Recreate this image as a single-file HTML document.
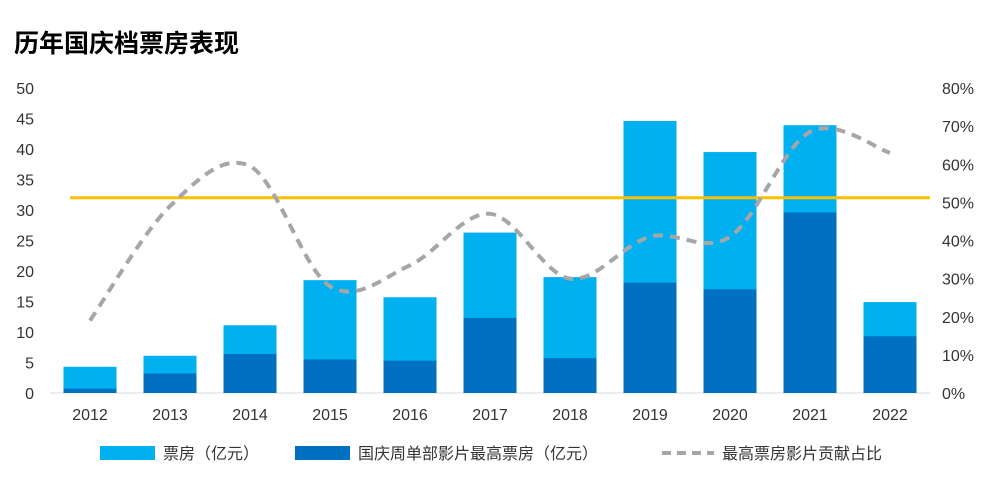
<!DOCTYPE html>
<html><head><meta charset="utf-8"><style>
html,body{margin:0;padding:0;background:#fff;}
svg{display:block;font-family:"Liberation Sans","Noto Sans CJK SC",sans-serif;}
</style></head><body>
<svg id="chart" width="994" height="484" viewBox="0 0 994 484">
<rect x="0" y="0" width="994" height="484" fill="#fff"/>
<text x="14" y="52" font-size="25" font-weight="bold" fill="#000">历年国庆档票房表现</text>
<g id="axes"></g><g id="bars"></g><g id="lines"></g>
<g>
<rect x="100" y="446" width="55" height="14" fill="#00B0F0"/>
<text x="163" y="459" font-size="16" fill="#333">票房（亿元）</text>
<rect x="295" y="446" width="55" height="14" fill="#0070C0"/>
<text x="358" y="459" font-size="16" fill="#333">国庆周单部影片最高票房（亿元）</text>
<line x1="662" y1="453" x2="714" y2="453" stroke="#A6A6A6" stroke-width="4" stroke-dasharray="9,6"/>
<text x="722" y="459" font-size="16" fill="#333">最高票房影片贡献占比</text>
</g>
</svg>
<script>
const categories=["2012","2013","2014","2015","2016","2017","2018","2019","2020","2021","2022"];
const totalBoxOffice=[4.3,6.1,11.1,18.5,15.7,26.3,19.0,44.6,39.5,43.9,14.9];
const topFilmBoxOffice=[0.7,3.2,6.4,5.5,5.3,12.3,5.7,18.1,17.0,29.6,9.3];
const topFilmShare=[19,49,59.5,28,33.5,47,30,41,41,68.5,63];
const leftTicks=[0,5,10,15,20,25,30,35,40,45,50];
const rightTicks=[0,10,20,30,40,50,60,70,80];
const referenceLine=32;
const NS="http://www.w3.org/2000/svg";
const y0=393,y1=88,xL=50,xR=930;
const yL=v=>y0-(v/50)*(y0-y1);
const yR=v=>y0-(v/80)*(y0-y1);
const step=(xR-xL)/categories.length;
const xC=i=>xL+step*(i+0.5);
function mk(tag,attrs,parent){const e=document.createElementNS(NS,tag);for(const k in attrs)e.setAttribute(k,attrs[k]);parent.appendChild(e);return e;}
const axes=document.getElementById('axes'),bars=document.getElementById('bars'),lines=document.getElementById('lines');
mk('line',{x1:xL,y1:y0,x2:xR,y2:y0,stroke:'#D9D9D9','stroke-width':1},axes);
leftTicks.forEach(t=>{const e=mk('text',{x:34,y:yL(t)+6,'text-anchor':'end','font-size':16,fill:'#333'},axes);e.textContent=t;

});
rightTicks.forEach(t=>{const e=mk('text',{x:942,y:yR(t)+6,'font-size':16,fill:'#333'},axes);e.textContent=t+'%';

});
categories.forEach((c,i)=>{const e=mk('text',{x:xC(i),y:420,'text-anchor':'middle','font-size':16,fill:'#333'},axes);e.textContent=c;

});
const bw=53;
categories.forEach((c,i)=>{
const a=mk('rect',{x:xC(i)-bw/2,y:yL(totalBoxOffice[i]),width:bw,height:y0-yL(totalBoxOffice[i]),fill:'#00B0F0'},bars);


const b=mk('rect',{x:xC(i)-bw/2,y:yL(topFilmBoxOffice[i]),width:bw,height:y0-yL(topFilmBoxOffice[i]),fill:'#0070C0'},bars);


});
const rl=mk('line',{x1:xL+20,x2:xR,y1:yL(referenceLine),y2:yL(referenceLine),stroke:'#FFC000','stroke-width':3},lines);


const pts=topFilmShare.map((v,i)=>[xC(i),yR(v)]);
let d='M'+pts[0][0]+','+pts[0][1];
for(let i=0;i<pts.length-1;i++){const p0=pts[i-1]||pts[i],p1=pts[i],p2=pts[i+1],p3=pts[i+2]||p2;
const c1=[p1[0]+(p2[0]-p0[0])/6,p1[1]+(p2[1]-p0[1])/6],c2=[p2[0]-(p3[0]-p1[0])/6,p2[1]-(p3[1]-p1[1])/6];
d+=` C${c1[0]},${c1[1]} ${c2[0]},${c2[1]} ${p2[0]},${p2[1]}`;}
const sl=mk('path',{d:d,fill:'none',stroke:'#A6A6A6','stroke-width':4,'stroke-dasharray':'10,7'},lines);


</script>
</body></html>
